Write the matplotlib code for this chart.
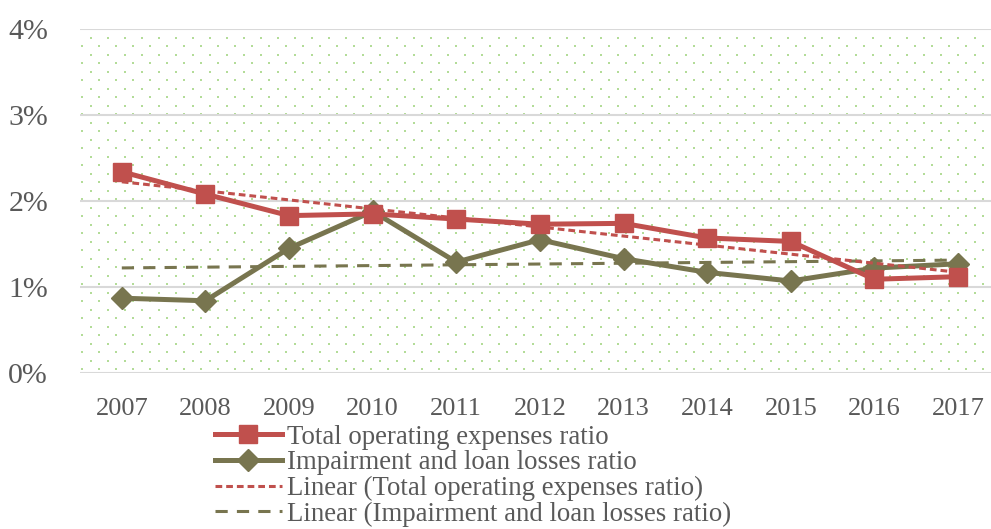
import numpy as np
import matplotlib.pyplot as plt
from matplotlib.ticker import FuncFormatter

years = ['2007', '2008', '2009', '2010', '2011', '2012', '2013', '2014', '2015', '2016', '2017']
opex_ratio = [2.34, 2.08, 1.83, 1.85, 1.79, 1.73, 1.74, 1.57, 1.53, 1.09, 1.12]
impair_ratio = [0.87, 0.84, 1.45, 1.88, 1.29, 1.55, 1.33, 1.17, 1.07, 1.22, 1.27]

RED = '#C0504D'
OLIVE = '#78754F'
TXT = '#595959'

plt.rcParams['font.family'] = ['Liberation Serif', 'DejaVu Serif']

W, H = 991, 529
fig = plt.figure(figsize=(W / 100, H / 100), dpi=100)
ax = fig.add_axes([80 / W, (H - 373) / H, (991 - 80) / W, (373 - 29) / H])

x = np.arange(len(years))

# dotted background pattern
px, py = [], []
for j, yy in enumerate(np.arange(373 - 4, 29, -8.5)):
    off = 0 if j % 2 == 0 else 8.5
    for xx in np.arange(82 + off, 991, 17):
        px.append((xx - 80) / (991 - 80))
        py.append((373 - yy) / (373 - 29))
ax.scatter(px, py, s=3.5, color='#B3DC98', marker='s', linewidths=0,
           transform=ax.transAxes, zorder=0)

for v in [0, 1, 2, 3, 4]:
    ax.axhline(v, color='#D9D9D9', lw=1.5, zorder=1)

# linear trends
c1 = np.polyfit(x, opex_ratio, 1)
c2 = np.polyfit(x, impair_ratio, 1)

ax.plot(x, opex_ratio, color=RED, lw=3.6, marker='s', markersize=13,
        label='Total operating expenses ratio', zorder=4)
ax.plot(x, impair_ratio, color=OLIVE, lw=3.6, marker='D', markersize=11,
        label='Impairment and loan losses ratio', zorder=3)
ax.plot(x, np.polyval(c1, x), color=RED, lw=2.2, ls=(0, (2.2, 1.3)),
        label='Linear (Total operating expenses ratio)', zorder=5)
ax.plot(x, np.polyval(c2, x), color=OLIVE, lw=2.2, ls=(0, (4, 3)),
        label='Linear (Impairment and loan losses ratio)', zorder=2)

ax.set_xlim(-0.5, 10 + (991 - 958) / 83.6)
ax.set_ylim(0, 4)
ax.set_xticks(x)
ax.set_xticklabels(years)
ax.set_yticks([0, 1, 2, 3, 4])
ax.yaxis.set_major_formatter(FuncFormatter(lambda v, p: f'{int(v)}%'))
ax.tick_params(axis='y', length=0, labelsize=21.5, colors=TXT, pad=23)
ax.tick_params(axis='x', length=0, labelsize=19, colors=TXT, pad=18)
for s in ax.spines.values():
    s.set_visible(False)

leg = fig.legend(loc='upper left', bbox_to_anchor=(204 / W, 1 - 414 / H),
                 frameon=False, fontsize=19.3, handlelength=2.5,
                 handletextpad=0.2, labelspacing=0.02, borderaxespad=0)
for t in leg.get_texts():
    t.set_color(TXT)

fig.savefig('out.png', dpi=100)
